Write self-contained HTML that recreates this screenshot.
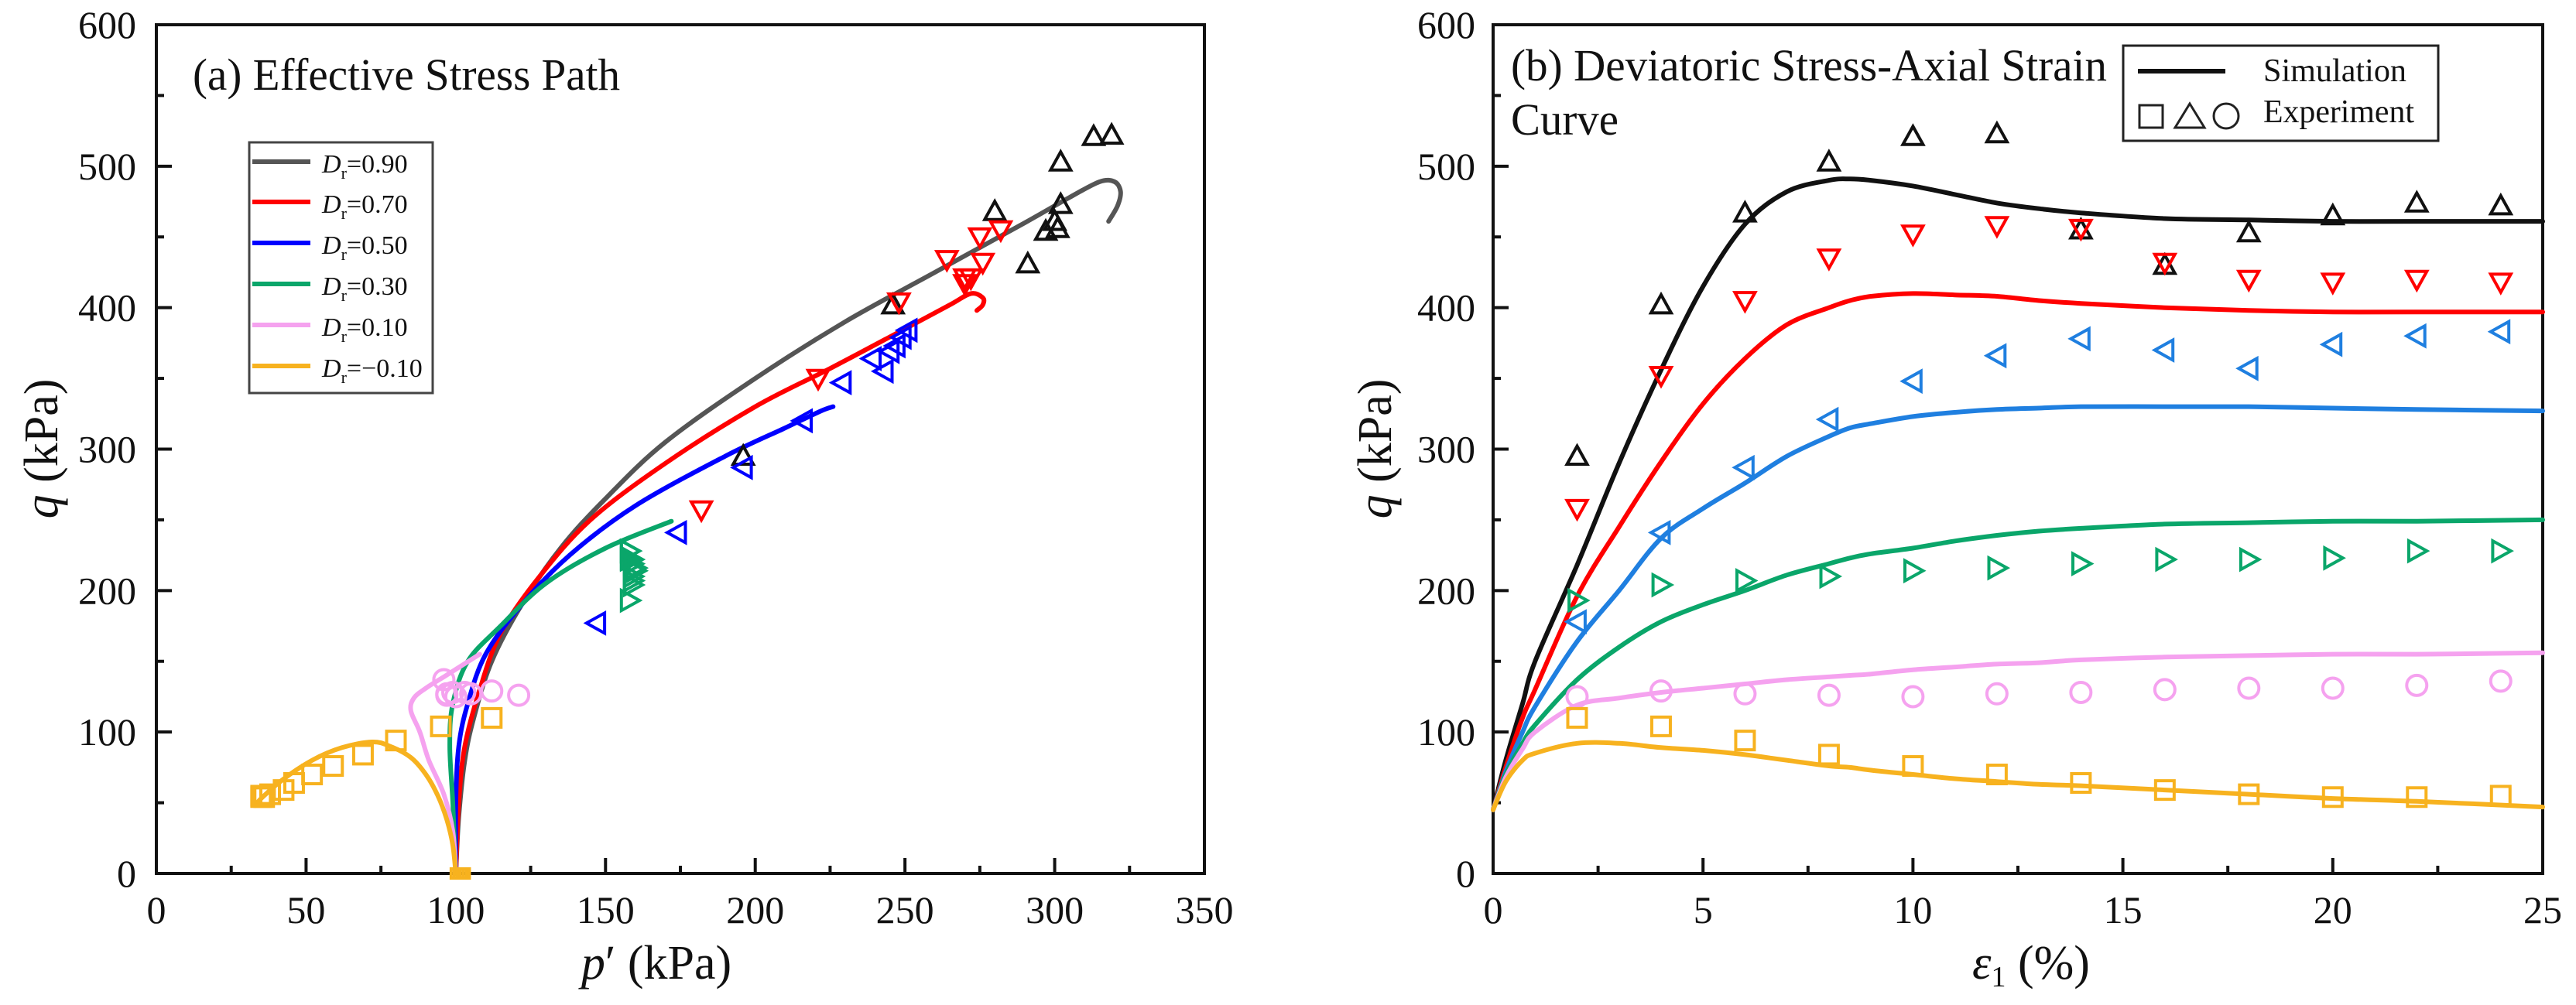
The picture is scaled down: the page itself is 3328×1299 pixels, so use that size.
<!DOCTYPE html>
<html><head><meta charset="utf-8"><style>
html,body{margin:0;padding:0;background:#fff}
svg{display:block;font-family:"Liberation Serif","DejaVu Serif",serif}
text{font-family:"Liberation Serif","DejaVu Serif",serif;fill:#111}
</style></head><body>
<svg id="fig" width="3328" height="1299" viewBox="0 0 3328 1299" xmlns="http://www.w3.org/2000/svg" font-family="Liberation Serif, serif">
<g id="pa"></g>
<g id="pb"></g>
</svg>
<script>
// ---------- Panel (a) data: effective stress paths (p', q) ----------
const pathBlackP = [100,101,103,106,112,122,135,150,170,200,230,260,290,305,315,320,322,321,318];
const pathBlackQ = [0,40,80,110,150,190,230,265,305,350,390,425,460,478,489,489,482,472,461];
const pathRedP = [100,101,103,108,115,128,145,170,200,225,250,265,272,276,276,274];
const pathRedQ = [0,50,90,130,170,210,250,290,330,357,385,402,410,407,402,398];
const pathBlueP = [100,100,101,104,110,122,138,160,190,210,222,226];
const pathBlueQ = [0,50,90,120,155,190,225,260,295,315,327,330];
const pathGreenP = [100,99,98,99,104,115,130,150,172];
const pathGreenQ = [0,50,90,120,150,175,205,230,249];
const pathPinkP = [100,99,96,91,88,85,86,90,96,102,108];
const pathPinkQ = [0,30,56,80,100,115,124,131,139,147,155];
const pathOrangeP = [100,99,97,94,90,85,78,72,62,52,42,35,33];
const pathOrangeQ = [0,20,38,55,70,82,90,93,89,80,66,53,48];

const expBlackP = [196,246,291,297,301,300,302,280,302,313,319];
const expBlackQ = [295,402,431,454,456,461,473,468,503,521,522];
const expRedP = [182,221,248,270,272,270,276,264,275,282];
const expRedQ = [257,350,404,417,421,421,432,434,450,455];
const expBlueP = [147,174,196,216,229,243,239,245,247,249,251];
const expBlueQ = [177,241,287,320,347,355,364,369,373,379,384];
const expGreenP = [158,159,159,159,160,160,159,159,158,158,158,158];
const expGreenQ = [193,204,207,210,214,216,219,222,222,223,228,228];
const expPinkP = [97,96,97,99,105,112,121,100,103];
const expPinkQ = [126,137,127,128,127,129,126,125,128];
const expOrangeP = [112,95,80,69,59,52,46,42.5,38,36,35,35];
const expOrangeQ = [110,104,94,84,76,70,64,59,56,54,54,55];
const originP = [100,101,102,103];
const originQ = [0,0,0,0];

// ---------- Panel (b) data: q vs axial strain ----------
const simStrain = [0,0.3,0.7,1,2,3,4,5,6,7,8,8.5,9,10,11,12,13,14,16,18,20,22,25];
const simBlack  = [45,80,120,150,218,290,356,415,459,482,490,491,490,486,480,474,470,467,463,462,461,461,461];
const simRed    = [45,75,110,130,196,245,291,332,364,388,400,405,408,410,409,408,405,403,400,398,397,397,397];
const simBlue   = [45,72,100,118,164,200,237,258,276,295,309,315,318,323,326,328,329,330,330,330,329,328,327];
const simGreen  = [45,70,92,105,137,160,178,190,200,211,219,223,226,230,235,239,242,244,247,248,249,249,250];
const simPink   = [45,68,88,100,119,124,128,131,134,137,139,140,141,144,146,148,149,151,153,154,155,155,156];
const simOrange = [45,65,80,85,92,92,89,87,84,80,76,75,73,70,67,65,63,62,59,56,53,51,47];

const expStrain = [2,4,6,8,10,12,14,16,18,20,22,24];
const expBlackB  = [295,402,467,503,521,523,455,430,453,465,474,472];
const expRedB    = [258,352,405,435,452,458,456,432,420,418,420,418];
const expBlueB   = [178,241,287,321,348,366,378,370,357,374,380,383];
const expGreenB  = [193,204,207,210,214,216,219,222,222,223,228,228];
const expPinkB   = [125,129,127,126,125,127,128,130,131,131,133,136];
const expOrangeB = [110,104,94,84,76,70,64,59,56,54,54,55];

const xTicksA = [0,50,100,150,200,250,300,350];
const xTicksB = [0,5,10,15,20,25];
const yTicks = [0,100,200,300,400,500,600];

const NS = "http://www.w3.org/2000/svg";
function el(tag, attrs, parent, txt){
  const e = document.createElementNS(NS, tag);
  for (const k in attrs) e.setAttribute(k, attrs[k]);
  if (txt !== undefined) e.textContent = txt;
  parent.appendChild(e);
  return e;
}
const A = {x0:202, x1:1556, y0:1129, y1:32, xmin:0, xmax:350};
const B = {x0:1929, x1:3285, y0:1129, y1:32, xmin:0, xmax:25};
function sx(ax, v){ return ax.x0 + (v-ax.xmin)/(ax.xmax-ax.xmin)*(ax.x1-ax.x0); }
function sy(ax, v){ return ax.y0 - v/600*(ax.y0-ax.y1); }

function line(g, ax, xs, ys, color, name){
  const P = xs.map((x,i)=>[sx(ax,x), sy(ax,ys[i])]);
  let d = "M"+P[0][0].toFixed(1)+","+P[0][1].toFixed(1);
  for (let i=0;i<P.length-1;i++){
    const p0=P[Math.max(0,i-1)], p1=P[i], p2=P[i+1], p3=P[Math.min(P.length-1,i+2)];
    const c1=[p1[0]+(p2[0]-p0[0])/6, p1[1]+(p2[1]-p0[1])/6];
    const c2=[p2[0]-(p3[0]-p1[0])/6, p2[1]-(p3[1]-p1[1])/6];
    d += "C"+c1[0].toFixed(1)+","+c1[1].toFixed(1)+" "+c2[0].toFixed(1)+","+c2[1].toFixed(1)+" "+p2[0].toFixed(1)+","+p2[1].toFixed(1);
  }
  const p = el("path", {d:d, fill:"none", stroke:color, "stroke-width":6, "stroke-linejoin":"round", "stroke-linecap":"round"}, g);
  
  
}
function marker(g, type, cx, cy, color, name, r){
  r = r || 13; let e;
  if (type==="sq") e = el("rect", {x:cx-r+1, y:cy-r+1, width:2*r-2, height:2*r-2}, g);
  else if (type==="ci") e = el("circle", {cx:cx, cy:cy, r:r}, g);
  else {
    let pts;
    if (type==="up") pts = [[0,-r],[r,r*0.8],[-r,r*0.8]];
    else if (type==="dn") pts = [[0,r],[r,-r*0.8],[-r,-r*0.8]];
    else if (type==="lt") pts = [[-r,0],[r*0.8,-r],[r*0.8,r]];
    else pts = [[r,0],[-r*0.8,-r],[-r*0.8,r]];
    e = el("polygon", {points: pts.map(p=>(cx+p[0]).toFixed(1)+","+(cy+p[1]).toFixed(1)).join(" ")}, g);
  }
  e.setAttribute("fill","none"); e.setAttribute("stroke",color); e.setAttribute("stroke-width",4);
  
  
}
function points(g, ax, xs, ys, type, color, name, r){
  for (let i=0;i<xs.length;i++) marker(g, type, sx(ax,xs[i]), sy(ax,ys[i]), color, name, r);
}
function axes(g, ax, xt, minorStep, yx){
  const f = el("rect", {x:ax.x0, y:ax.y1, width:ax.x1-ax.x0, height:ax.y0-ax.y1, fill:"none", stroke:"#111", "stroke-width":4}, g);
   
  for (let v=ax.xmin; v<=ax.xmax+1e-9; v+=minorStep){
    const major = xt.some(t=>Math.abs(t-v)<1e-9);
    const x = sx(ax,v);
    el("line", {x1:x, x2:x, y1:ax.y0, y2:ax.y0-(major?20:10), stroke:"#111", "stroke-width":4}, g);
  }
  for (const t of xt){
    const tx = el("text", {x:sx(ax,t), y:1193, "font-size":50, "text-anchor":"middle", "font-family":"Liberation Serif, serif"}, g, String(t));
     
  }
  for (let v=0; v<=600; v+=50){
    const major = v%100===0; const y = sy(ax,v);
    el("line", {x1:ax.x0, x2:ax.x0+(major?20:10), y1:y, y2:y, stroke:"#111", "stroke-width":4}, g);
  }
  for (const t of yTicks){
    const ty = el("text", {x:yx, y:sy(ax,t)+17, "font-size":50, "text-anchor":"end", "font-family":"Liberation Serif, serif"}, g, String(t));
     
  }
}
const C = {blk:"#111", gray:"#555", red:"#ff0000", blue:"#0000ff", lblue:"#1f7fe0", green:"#0aa66a", pink:"#f5a2ef", orange:"#f7b21f"};

// ---------- Panel A ----------
const ga = document.getElementById("pa");
axes(ga, A, xTicksA, 25, 176);
line(ga, A, pathBlackP, pathBlackQ, C.gray, "path-dr-0.90");
line(ga, A, pathRedP, pathRedQ, C.red, "path-dr-0.70");
line(ga, A, pathBlueP, pathBlueQ, C.blue, "path-dr-0.50");
line(ga, A, pathGreenP, pathGreenQ, C.green, "path-dr-0.30");
line(ga, A, pathPinkP, pathPinkQ, C.pink, "path-dr-0.10");
line(ga, A, pathOrangeP, pathOrangeQ, C.orange, "path-dr-neg0.10");
points(ga, A, expBlackP, expBlackQ, "up", C.blk, "exp-dr-0.90");
points(ga, A, expRedP, expRedQ, "dn", C.red, "exp-dr-0.70");
points(ga, A, expBlueP, expBlueQ, "lt", C.blue, "exp-dr-0.50");
points(ga, A, expGreenP, expGreenQ, "rt", C.green, "exp-dr-0.30");
points(ga, A, expPinkP, expPinkQ, "ci", C.pink, "exp-dr-0.10");
points(ga, A, expOrangeP, expOrangeQ, "sq", C.orange, "exp-dr-neg0.10");
points(ga, A, originP, originQ, "sq", C.orange, "exp-origin", 7);

// ---------- Panel B ----------
const gb = document.getElementById("pb");
axes(gb, B, xTicksB, 2.5, 1906);
line(gb, B, simStrain, simBlack, C.blk, "sim-dr-0.90");
line(gb, B, simStrain, simRed, C.red, "sim-dr-0.70");
line(gb, B, simStrain, simBlue, C.lblue, "sim-dr-0.50");
line(gb, B, simStrain, simGreen, C.green, "sim-dr-0.30");
line(gb, B, simStrain, simPink, C.pink, "sim-dr-0.10");
line(gb, B, simStrain, simOrange, C.orange, "sim-dr-neg0.10");
points(gb, B, expStrain, expBlackB, "up", C.blk, "exp-dr-0.90");
points(gb, B, expStrain, expRedB, "dn", C.red, "exp-dr-0.70");
points(gb, B, expStrain, expBlueB, "lt", C.lblue, "exp-dr-0.50");
points(gb, B, expStrain, expGreenB, "rt", C.green, "exp-dr-0.30");
points(gb, B, expStrain, expPinkB, "ci", C.pink, "exp-dr-0.10");
points(gb, B, expStrain, expOrangeB, "sq", C.orange, "exp-dr-neg0.10");
</script>
<svg width="3328" height="1299" style="position:absolute;left:0;top:0" xmlns="http://www.w3.org/2000/svg" font-family="Liberation Serif, serif">
  <text x="249" y="116" font-size="58" textLength="552" lengthAdjust="spacingAndGlyphs">(a) Effective Stress Path</text>
  <text x="1952" y="104" font-size="58" textLength="770" lengthAdjust="spacingAndGlyphs">(b) Deviatoric Stress-Axial Strain</text>
  <text x="1952" y="174" font-size="58" textLength="139" lengthAdjust="spacingAndGlyphs">Curve</text>
  <text x="848" y="1265" font-size="62" text-anchor="middle"><tspan font-style="italic">p</tspan>′ (kPa)</text>
  <text x="2624" y="1265" font-size="62" text-anchor="middle"><tspan font-style="italic">ε</tspan><tspan font-size="38" dy="10">1</tspan><tspan dy="-10"> (%)</tspan></text>
  <text transform="translate(74,580) rotate(-90)" font-size="62" text-anchor="middle"><tspan font-style="italic">q</tspan> (kPa)</text>
  <text transform="translate(1797,580) rotate(-90)" font-size="62" text-anchor="middle"><tspan font-style="italic">q</tspan> (kPa)</text>
  <g>
    <rect x="322" y="184" width="237" height="324" fill="#fff" stroke="#444" stroke-width="3"/>
    <g><line x1="326" x2="401" y1="209" y2="209" stroke="#555" stroke-width="6"/><text x="416" y="223" font-size="34"><tspan font-style="italic">D</tspan><tspan font-size="22" dy="8">r</tspan><tspan dy="-8">=0.90</tspan></text></g>
    <g><line x1="326" x2="401" y1="261" y2="261" stroke="#ff0000" stroke-width="6"/><text x="416" y="275" font-size="34"><tspan font-style="italic">D</tspan><tspan font-size="22" dy="8">r</tspan><tspan dy="-8">=0.70</tspan></text></g>
    <g><line x1="326" x2="401" y1="314" y2="314" stroke="#0000ff" stroke-width="6"/><text x="416" y="328" font-size="34"><tspan font-style="italic">D</tspan><tspan font-size="22" dy="8">r</tspan><tspan dy="-8">=0.50</tspan></text></g>
    <g><line x1="326" x2="401" y1="367" y2="367" stroke="#0aa66a" stroke-width="6"/><text x="416" y="381" font-size="34"><tspan font-style="italic">D</tspan><tspan font-size="22" dy="8">r</tspan><tspan dy="-8">=0.30</tspan></text></g>
    <g><line x1="326" x2="401" y1="420" y2="420" stroke="#f5a2ef" stroke-width="6"/><text x="416" y="434" font-size="34"><tspan font-style="italic">D</tspan><tspan font-size="22" dy="8">r</tspan><tspan dy="-8">=0.10</tspan></text></g>
    <g><line x1="326" x2="401" y1="473" y2="473" stroke="#f7b21f" stroke-width="6"/><text x="416" y="487" font-size="34"><tspan font-style="italic">D</tspan><tspan font-size="22" dy="8">r</tspan><tspan dy="-8">=−0.10</tspan></text></g>
  </g>
  <g>
    <rect x="2743" y="59" width="407" height="123" fill="#fff" stroke="#222" stroke-width="3"/>
    <g><line x1="2762" x2="2875" y1="92" y2="92" stroke="#111" stroke-width="6"/><text x="2924" y="105" font-size="42" textLength="185" lengthAdjust="spacingAndGlyphs">Simulation</text></g>
    <g>
      <rect x="2764" y="136" width="30" height="29" fill="none" stroke="#222" stroke-width="3"/>
      <polygon points="2829,134 2848,165 2810,165" fill="none" stroke="#222" stroke-width="3"/>
      <circle cx="2876" cy="150" r="16" fill="none" stroke="#222" stroke-width="3"/>
      <text x="2924" y="158" font-size="42" textLength="195" lengthAdjust="spacingAndGlyphs">Experiment</text>
    </g>
  </g>
</svg>
</body></html>
